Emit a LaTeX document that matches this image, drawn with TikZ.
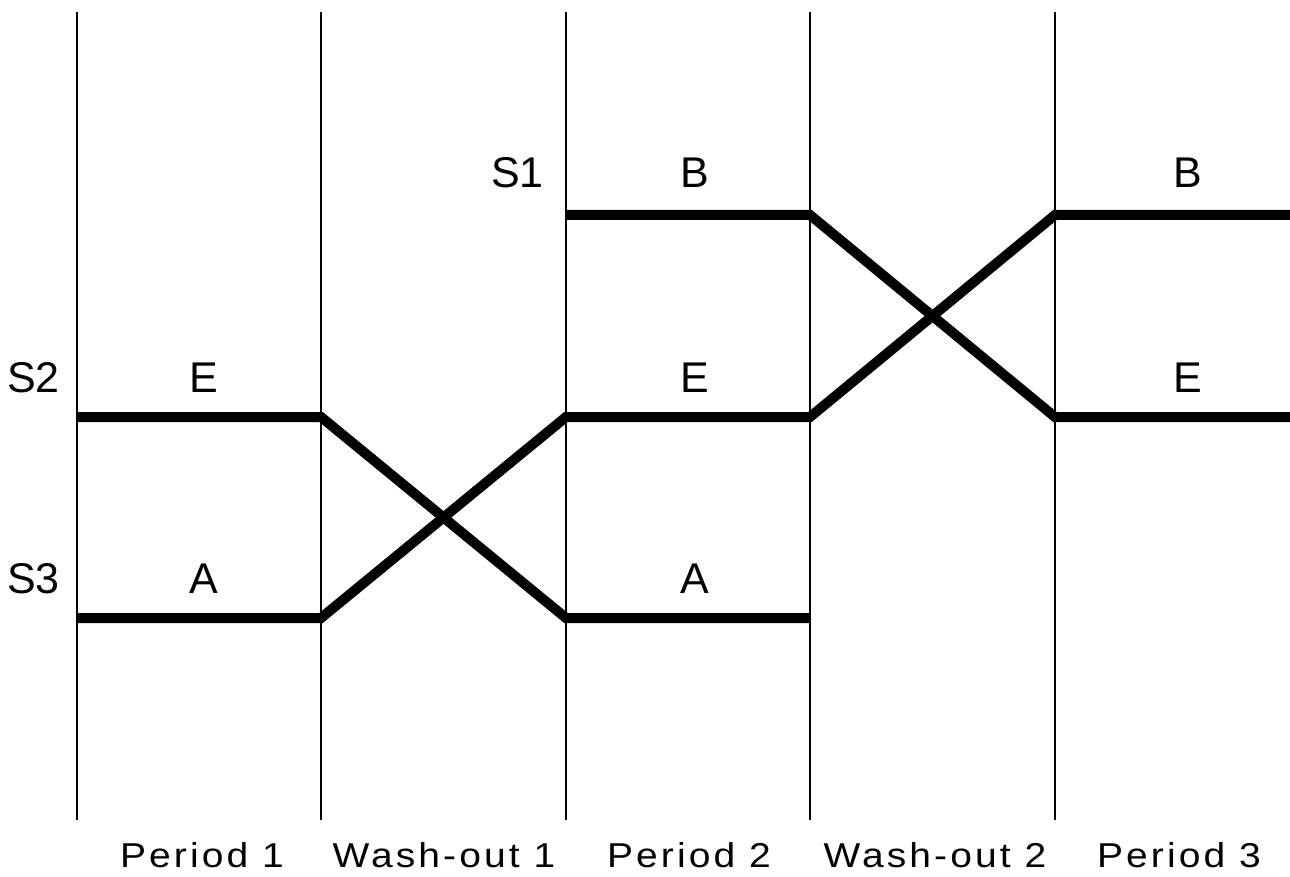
\documentclass[tikz,border=0pt]{standalone}
\usepackage{graphicx}
\usepackage{fontspec}
\setmainfont{Liberation Sans}
\newfontfamily\bottomfont[LetterSpace=8]{Liberation Sans}
\newcommand{\widetext}[1]{\scalebox{1.13}[1]{#1}}
\begin{document}
\begin{tikzpicture}[x=1pt,y=-1pt,
  divider/.style={line width=1.3pt,black},
  armline/.style={line width=10pt,black,line join=miter},
  lab/.style={font=\fontsize{43}{43}\selectfont,inner sep=0pt,anchor=base},
  slab/.style={font=\fontsize{43}{43}\selectfont,inner sep=0pt,anchor=base east},
  plab/.style={font=\bottomfont\fontsize{34.5}{34.5}\selectfont,inner sep=0pt,anchor=base}]
\useasboundingbox (0,0) rectangle (1290,877);
% dividers
\foreach \i/\x in {1/77,2/321,3/566,4/810,5/1055}{
  \coordinate (t\i) at (\x,12);
  \coordinate (b\i) at (\x,820);
  \draw[divider] (t\i) -- (b\i);
}
% level points
\coordinate (p1e) at (77,417);   \coordinate (p1a) at (77,618);
\coordinate (w1e) at (321,417);  \coordinate (w1a) at (321,618);
\coordinate (p2b) at (566,215);  \coordinate (p2e) at (566,417);  \coordinate (p2a) at (566,618);
\coordinate (w2b) at (810,215);  \coordinate (w2e) at (810,417);  \coordinate (w2a) at (810,618);
\coordinate (p3b) at (1055,215); \coordinate (p3e) at (1055,417);
\coordinate (endb) at (1290,215); \coordinate (ende) at (1290,417);
% sequences
\draw[armline] (p1e) -- (w1e) -- (p2a) -- (w2a);
\draw[armline] (p1a) -- (w1a) -- (p2e) -- (w2e) -- (p3b) -- (endb);
\draw[armline] (p2b) -- (w2b) -- (p3e) -- (ende);
% sequence labels
\node[slab] (s2) at (60,392) {S2};
\node[slab] (s3) at (60,593) {S3};
\node[slab] (s1) at (544,188) {S1};
% treatment labels
\node[lab] (l1e) at (204,392) {E};
\node[lab] (l1a) at (204,593) {A};
\node[lab] (l2b) at (695,188) {B};
\node[lab] (l2e) at (695,392) {E};
\node[lab] (l2a) at (695,593) {A};
\node[lab] (l3b) at (1188,188) {B};
\node[lab] (l3e) at (1188,392) {E};
% period labels
\node[plab] (per1) at (202,867) {\widetext{Period 1}};
\node[plab] (wo1) at (444,867) {\widetext{Wash-out 1}};
\node[plab] (per2) at (689,867) {\widetext{Period 2}};
\node[plab] (wo2) at (935,867) {\widetext{Wash-out 2}};
\node[plab] (per3) at (1179,867) {\widetext{Period 3}};
\end{tikzpicture}
\end{document}
